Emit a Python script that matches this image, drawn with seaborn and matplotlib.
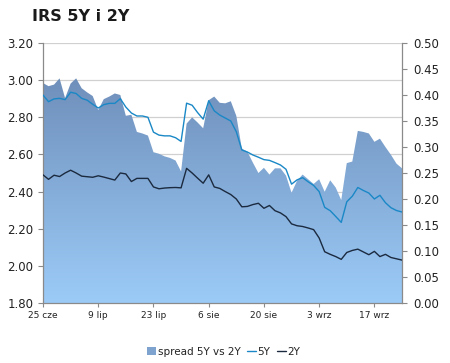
import numpy as np
import pandas as pd
import matplotlib
matplotlib.use("Agg")
import matplotlib.pyplot as plt
from matplotlib.colors import LinearSegmentedColormap
from matplotlib.patches import Patch
from matplotlib.lines import Line2D
import seaborn as sns

# ---- data ----
rate_5y = [2.92, 2.884, 2.899, 2.902, 2.895, 2.935, 2.928, 2.902, 2.892, 2.87,
           2.85, 2.868, 2.875, 2.875, 2.90, 2.855, 2.823, 2.807, 2.807, 2.80,
           2.72, 2.704, 2.70, 2.70, 2.69, 2.67, 2.876, 2.865, 2.825, 2.79,
           2.889, 2.835, 2.812, 2.796, 2.78, 2.722, 2.624, 2.613, 2.597, 2.585,
           2.572, 2.568, 2.556, 2.543, 2.52, 2.44, 2.463, 2.475, 2.453, 2.433,
           2.40, 2.315, 2.297, 2.266, 2.234, 2.345, 2.375, 2.422, 2.406, 2.392,
           2.36, 2.38, 2.34, 2.313, 2.298, 2.29]
rate_2y = [2.49, 2.466, 2.488, 2.481, 2.50, 2.515, 2.50, 2.483, 2.48, 2.477,
           2.485, 2.478, 2.47, 2.462, 2.50, 2.495, 2.454, 2.471, 2.471, 2.471,
           2.425, 2.415, 2.419, 2.421, 2.422, 2.42, 2.525, 2.50, 2.472, 2.445,
           2.49, 2.425, 2.417, 2.40, 2.384, 2.36, 2.318, 2.32, 2.33, 2.337,
           2.31, 2.325, 2.297, 2.285, 2.265, 2.226, 2.216, 2.212, 2.204, 2.195,
           2.15, 2.076, 2.062, 2.05, 2.035, 2.072, 2.083, 2.09, 2.075, 2.06,
           2.078, 2.05, 2.062, 2.045, 2.038, 2.031]
spread = [0.423, 0.417, 0.42, 0.432, 0.394, 0.422, 0.432, 0.413, 0.405, 0.398,
          0.371, 0.392, 0.397, 0.403, 0.40, 0.36, 0.362, 0.329, 0.326, 0.322,
          0.29, 0.287, 0.282, 0.279, 0.274, 0.253, 0.345, 0.357, 0.347, 0.336,
          0.39, 0.397, 0.385, 0.384, 0.388, 0.36, 0.297, 0.291, 0.27, 0.25,
          0.26, 0.247, 0.259, 0.259, 0.245, 0.212, 0.235, 0.247, 0.238, 0.229,
          0.238, 0.214, 0.236, 0.222, 0.198, 0.269, 0.272, 0.331, 0.329, 0.326,
          0.31, 0.316, 0.30, 0.285, 0.268, 0.259]
tick_labels = ["25 cze", "9 lip", "23 lip", "6 sie", "20 sie", "3 wrz", "17 wrz"]
tick_every = 10
left_ticks = [1.80, 2.00, 2.20, 2.40, 2.60, 2.80, 3.00, 3.20]
right_ticks = [0.00, 0.05, 0.10, 0.15, 0.20, 0.25, 0.30, 0.35, 0.40, 0.45, 0.50]

sns.set_style("white")
plt.rcParams["font.family"] = ["DejaVu Sans"]

n = len(rate_5y)
df = pd.DataFrame({"idx": np.arange(n), "5Y": rate_5y, "2Y": rate_2y,
                   "spread": spread})

axis_col = "#8a8a8a"
text_col = "#222222"
c5 = "#1a88c6"
c2 = "#1b2a3f"

fig = plt.figure(figsize=(4.5, 3.63), dpi=100)
ax1 = fig.add_axes([43 / 450, 1 - 303 / 363, 359 / 450, 260 / 363])
ax2 = ax1.twinx()
ax3 = ax1.twinx()
ax1.set_zorder(0)
ax2.set_zorder(1)
ax3.set_zorder(2)
for a in (ax2, ax3):
    a.patch.set_visible(False)

# left axis: grid + ticks
ax1.set_xlim(0, n - 1)
ax1.set_ylim(1.8, 3.2)
ax1.set_yticks(left_ticks)
ax1.set_yticklabels([f"{v:.2f}" for v in left_ticks])
ax1.grid(axis="y", color="#d0d0d0", lw=0.9)
ax1.grid(axis="x", visible=False)
ax1.set_xticks(np.arange(0, n, tick_every)[:len(tick_labels)])
ax1.set_xticklabels(tick_labels)
ax1.tick_params(axis="y", direction="out", length=3.5, width=0.8, color=axis_col,
                labelsize=8.5, labelcolor=text_col, pad=3.5, left=True)
ax1.tick_params(axis="x", direction="out", length=3, width=0.8, color=axis_col,
                labelsize=6.5, labelcolor=text_col, pad=3, bottom=True)
for s in ax1.spines.values():
    s.set_visible(False)
ax1.set_xlabel("")
ax1.set_ylabel("")

# right axis: gradient area
ax2.set_ylim(0, 0.5)
poly = ax2.fill_between(df["idx"], 0, df["spread"], facecolor="none",
                        edgecolor="none")
cmap = LinearSegmentedColormap.from_list("g", ["#9ccbf8", "#6886b1"])
grad = np.linspace(0, 1, 256).reshape(-1, 1)
img = ax2.imshow(grad, extent=[0, n - 1, 0, 0.5], origin="lower", aspect="auto",
                 cmap=cmap, zorder=1, interpolation="bilinear")
img.set_clip_path(poly.get_paths()[0], transform=ax2.transData)
ax2.set_xlim(0, n - 1)
ax2.set_ylim(0, 0.5)
ax2.set_yticks(right_ticks)
ax2.set_yticklabels([f"{v:.2f}" for v in right_ticks])
ax2.tick_params(axis="y", direction="out", length=3.5, width=0.8, color=axis_col,
                labelsize=8.5, labelcolor=text_col, pad=4.5, right=True)
ax2.spines["top"].set_visible(False)
for k in ("left", "bottom", "right"):
    ax2.spines[k].set_color(axis_col)
    ax2.spines[k].set_linewidth(0.9)
    ax2.spines[k].set_visible(True)

# lines on top
sns.lineplot(data=df, x="idx", y="5Y", ax=ax3, color=c5, lw=1.0, legend=False)
sns.lineplot(data=df, x="idx", y="2Y", ax=ax3, color=c2, lw=1.0, legend=False)
ax3.set_xlim(0, n - 1)
ax3.set_ylim(1.8, 3.2)
ax3.yaxis.set_visible(False)
ax3.xaxis.set_visible(False)
for s in ax3.spines.values():
    s.set_visible(False)

fig.text(32 / 450, 1 - 16.5 / 363, "IRS 5Y i 2Y", fontsize=11.5,
         fontweight="bold", color="#1a1a1a", va="center", ha="left")

handles = [Patch(facecolor="#7ea3cf", edgecolor="none"),
           Line2D([0], [0], color=c5, lw=1.0),
           Line2D([0], [0], color=c2, lw=1.0)]
fig.legend(handles, ["spread 5Y vs 2Y", "5Y", "2Y"], loc="center",
           bbox_to_anchor=(0.497, 1 - 352 / 363), ncol=3, frameon=False,
           fontsize=7.5, handlelength=0.9, handleheight=0.8, handletextpad=0.15,
           columnspacing=0.6, labelcolor=text_col)

fig.savefig("out.png", dpi=100)
